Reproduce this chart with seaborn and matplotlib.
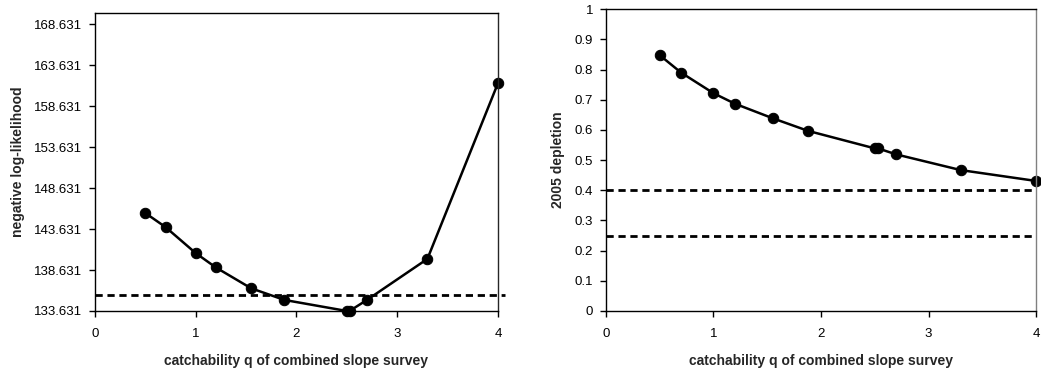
import numpy as np
import pandas as pd
import matplotlib
matplotlib.use("Agg")
import matplotlib.pyplot as plt
import seaborn as sns

# catchability q of the combined slope survey
q_values = [0.5, 0.7, 1.0, 1.2, 1.55, 1.88, 2.5, 2.53, 2.7, 3.3, 4.0]
neg_loglik = [145.58, 143.87, 140.69, 138.94, 136.40, 134.98, 133.631, 133.66, 134.98, 139.99, 161.42]
depletion = [0.848, 0.790, 0.722, 0.687, 0.639, 0.597, 0.539, 0.539, 0.519, 0.467, 0.431]

nll_cutoff = 135.55
depletion_refs = [0.4, 0.25]

sns.set_style("white")
plt.rcParams['font.family'] = ['Liberation Sans', 'DejaVu Sans']

df = pd.DataFrame({'q': q_values, 'nll': neg_loglik, 'dep': depletion})

fig = plt.figure(figsize=(10.41, 3.72), dpi=100)
ax1 = fig.add_axes([0.0913, 0.164, 0.387, 0.801])
ax2 = fig.add_axes([0.582, 0.164, 0.4133, 0.811])

dash = (0, (2.6, 1.7))

# left panel: likelihood profile
sns.lineplot(data=df, x='q', y='nll', ax=ax1, sort=False, color='black',
             linewidth=1.8, marker='o', markersize=7.5, markeredgecolor='black',
             clip_on=False)
ax1.axhline(nll_cutoff, xmin=0, xmax=1.018, color='black', linestyle=dash,
            linewidth=2, clip_on=False)
ax1.set_xlim(0, 4)
ax1.set_ylim(133.631, 170.0)
yt = np.arange(133.631, 169, 5)
ax1.set_yticks(yt)
ax1.set_yticklabels([f'{v:.3f}' for v in yt])
ax1.set_ylabel('negative log-likelihood', fontweight='bold', fontsize=10, labelpad=7)

# right panel: 2005 depletion
sns.lineplot(data=df, x='q', y='dep', ax=ax2, sort=False, color='black',
             linewidth=1.8, marker='o', markersize=7.5, markeredgecolor='black',
             clip_on=False)
for ref in depletion_refs:
    ax2.axhline(ref, color='black', linestyle=dash, linewidth=2)
ax2.set_xlim(0, 4)
ax2.set_ylim(0, 1)
yt2 = np.round(np.arange(0, 1.01, 0.1), 1)
ax2.set_yticks(yt2)
ax2.set_yticklabels(['0' if v == 0 else ('1' if v == 1 else f'{v:.1f}') for v in yt2])
ax2.set_ylabel('2005 depletion', fontweight='bold', fontsize=10, labelpad=7)
ax2.spines['right'].set_color('#808080')

for ax in (ax1, ax2):
    ax.set_xticks([0, 1, 2, 3, 4])
    ax.set_xticklabels(['0', '1', '2', '3', '4'])
    ax.set_xlabel('catchability q of combined slope survey', fontweight='bold',
                  fontsize=10, labelpad=10)
    ax.tick_params(axis='both', direction='out', length=4, width=1, colors='black',
                   labelsize=9.5, left=True, bottom=True)
    ax.tick_params(axis='x', pad=8)
    ax.tick_params(axis='y', pad=5)
    for side in ('left', 'bottom', 'top'):
        ax.spines[side].set_color('black')
    for side in ax.spines:
        ax.spines[side].set_linewidth(1)

fig.savefig('out.png', dpi=100)
